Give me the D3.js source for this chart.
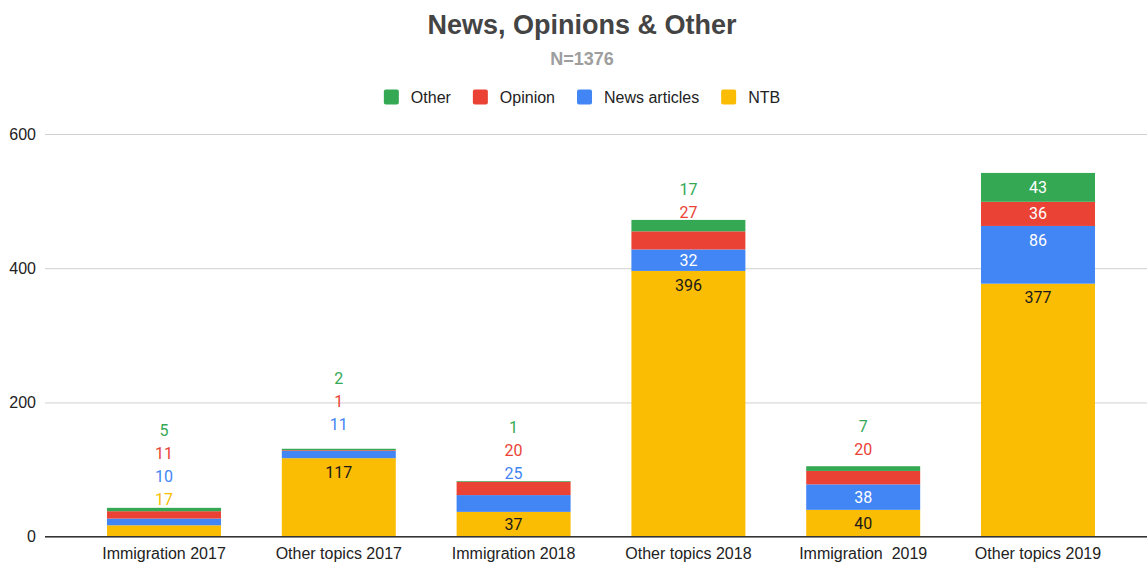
<!DOCTYPE html>
<html>
<head>
<meta charset="utf-8">
<script src="https://cdn.jsdelivr.net/npm/d3@7"></script>
<style>
  html, body { margin: 0; padding: 0; background: #fff; }
  svg { display: block; }
  text { white-space: pre; }
</style>
</head>
<body>
<svg id="chart" width="1147" height="563"></svg>
<script>
// Article counts per topic and year, split by source type
const categories = ["Immigration 2017", "Other topics 2017", "Immigration 2018",
                    "Other topics 2018", "Immigration  2019", "Other topics 2019"];
const ntb      = [17, 117, 37, 396, 40, 377];
const news     = [10, 11, 25, 32, 38, 86];
const opinion  = [11, 1, 20, 27, 20, 36];
const other    = [5, 2, 1, 17, 7, 43];
const yTicks   = [0, 200, 400, 600];

const seriesNames  = ["NTB", "News articles", "Opinion", "Other"];
const seriesValues = [ntb, news, opinion, other];
const seriesColors = ["#fbbc04", "#4285f4", "#ea4335", "#34a853"];
const legendOrder  = ["Other", "Opinion", "News articles", "NTB"];

const svg = d3.select("#chart");
const W = 1147;
const sans = "'Liberation Sans', Arial, sans-serif";
const roboto = "Roboto, 'Liberation Sans', sans-serif";

const rows = categories.map((c, i) => {
  const r = { cat: c };
  seriesNames.forEach((s, k) => r[s] = seriesValues[k][i]);
  return r;
});
const stacked = d3.stack().keys(seriesNames)(rows);

const x = d3.scaleBand().domain(categories).range([76.6, 1125.4])
  .paddingInner(0.348).paddingOuter(0.174);
const y = d3.scaleLinear().domain([0, 600]).range([536.7, 134]);
const color = d3.scaleOrdinal().domain(seriesNames).range(seriesColors);

// Title and subtitle
const cx = 582;
svg.append("text").attr("x", cx).attr("y", 34).attr("text-anchor", "middle")
  .attr("font-family", sans).attr("font-weight", "bold").attr("font-size", 27)
  .attr("fill", "#444").text("News, Opinions & Other");
svg.append("text").attr("x", cx).attr("y", 64.5).attr("text-anchor", "middle")
  .attr("font-family", sans).attr("font-weight", "bold").attr("font-size", 18)
  .attr("fill", "#9e9e9e").text("N=1376");

// Legend
const legend = svg.append("g");
let lx = 0;
legendOrder.forEach(name => {
  const g = legend.append("g").attr("transform", `translate(${lx},0)`);
  g.append("rect").attr("x", 0).attr("y", 89.5).attr("width", 15).attr("height", 15)
    .attr("rx", 2).attr("fill", color(name));
  const t = g.append("text").attr("x", 27).attr("y", 97).attr("dy", "0.35em")
    .attr("font-family", sans).attr("font-size", 16).attr("fill", "#222").text(name);
  lx += 27 + t.node().getComputedTextLength() + 22;
});
const legendWidth = lx - 22;
legend.attr("transform", `translate(${cx - legendWidth / 2},0)`);

// Gridlines and y axis labels
const yAxis = svg.append("g").attr("transform", "translate(45,0)")
  .call(d3.axisLeft(y).tickValues(yTicks).tickSize(-(W - 45)).tickPadding(9));
yAxis.select(".domain").remove();
yAxis.selectAll(".tick line").attr("stroke", "#d0d0d0").attr("stroke-width", 1);
yAxis.selectAll(".tick text").attr("font-family", sans).attr("font-size", 16)
  .attr("fill", "#222");

// Bars
svg.append("g").selectAll("g").data(stacked).join("g")
  .attr("fill", d => color(d.key))
  .selectAll("rect").data(d => d).join("rect")
  .attr("x", d => x(d.data.cat))
  .attr("width", x.bandwidth())
  .attr("y", d => y(d[1]))
  .attr("height", d => y(d[0]) - y(d[1]));

// Baseline and category axis
const xAxis = svg.append("g").attr("transform", `translate(0,${y(0)})`)
  .call(d3.axisBottom(x).tickSize(0).tickPadding(11));
xAxis.select(".domain").remove();
xAxis.selectAll(".tick text").attr("font-family", sans).attr("font-size", 16)
  .attr("fill", "#222");
svg.append("line").attr("x1", 45).attr("x2", W).attr("y1", y(0)).attr("y2", y(0))
  .attr("stroke", "#333").attr("stroke-width", 1.5);

// Value labels: inside the segment when it is tall enough, otherwise stacked above the bar
const labels = svg.append("g").attr("font-family", roboto).attr("font-size", 16)
  .attr("text-anchor", "middle");
categories.forEach((c, i) => {
  const xc = x(c) + x.bandwidth() / 2;
  const barTop = y(stacked[stacked.length - 1][i][1]);
  let topInside = Infinity;
  const outside = [];
  stacked.forEach(layer => {
    const seg = layer[i];
    const v = seg[1] - seg[0];
    const top = y(seg[1]), h = y(seg[0]) - y(seg[1]);
    if (h >= 20) {
      const yc = top + Math.min(h / 2, 14);
      topInside = Math.min(topInside, yc);
      labels.append("text").attr("x", xc).attr("y", yc).attr("dy", "0.35em")
        .attr("fill", layer.key === "NTB" ? "#1a1a1a" : "#fff").text(v);
    } else {
      outside.push({ key: layer.key, v });
    }
  });
  let yy = Math.min(barTop - 8, topInside - 48);
  outside.forEach(o => {
    labels.append("text").attr("x", xc).attr("y", yy).attr("dy", "0.35em")
      .attr("fill", color(o.key)).text(o.v);
    yy -= 23;
  });
});
</script>
</body>
</html>
